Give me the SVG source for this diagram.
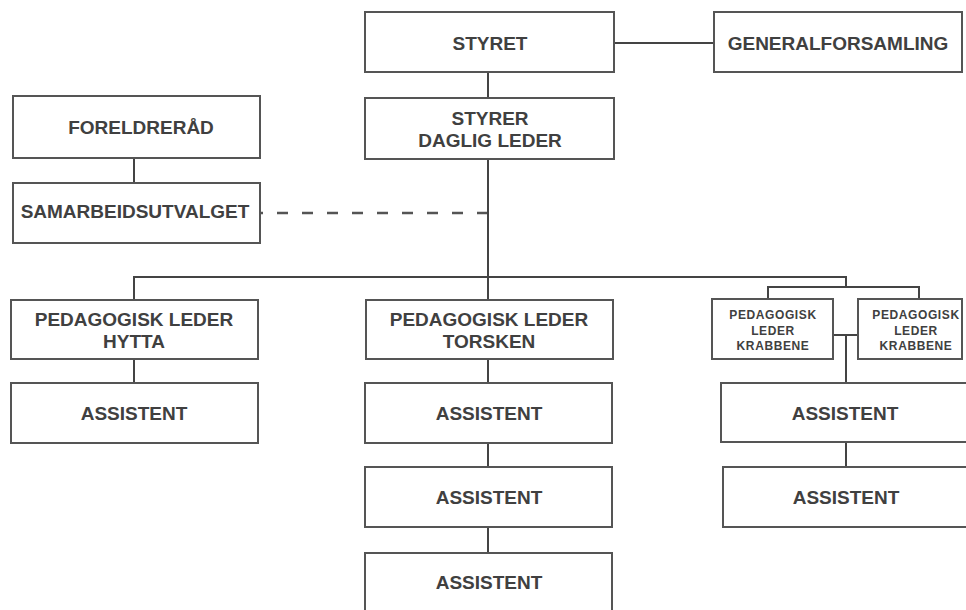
<svg xmlns="http://www.w3.org/2000/svg" width="966" height="610" viewBox="0 0 966 610">
<style>
.box{fill:#fff;stroke:#555;stroke-width:2}
.t{font-family:"Liberation Sans",Arial,sans-serif;font-weight:bold;font-size:19px;fill:#404040;text-anchor:middle}
.s{font-family:"Liberation Sans",Arial,sans-serif;font-weight:bold;font-size:12px;letter-spacing:0.6px;fill:#404040;text-anchor:middle}
.ln{fill:none;stroke:#444;stroke-width:2}
.dash{fill:none;stroke:#555;stroke-width:2.5;stroke-dasharray:11 14}
</style>
<rect width="966" height="610" fill="#fff"/>
<g id="connectors">
<line class="ln" x1="614" y1="43" x2="714" y2="43"/>
<line class="ln" x1="488" y1="72" x2="488" y2="98"/>
<line class="ln" x1="134" y1="158" x2="134" y2="183"/>
<line class="dash" x1="488" y1="213" x2="261" y2="213"/>
<line class="ln" x1="488" y1="159" x2="488" y2="300"/>
<polyline class="ln" points="134,300 134,277 846,277 846,287"/>
<polyline class="ln" points="768,299 768,287 919,287 919,299"/>
<line class="ln" x1="134" y1="359" x2="134" y2="383"/>
<line class="ln" x1="488" y1="359" x2="488" y2="383"/>
<line class="ln" x1="488" y1="443" x2="488" y2="467"/>
<line class="ln" x1="488" y1="527" x2="488" y2="553"/>
<line class="ln" x1="833" y1="335" x2="858" y2="335"/>
<line class="ln" x1="846" y1="335" x2="846" y2="383"/>
<line class="ln" x1="846" y1="442" x2="846" y2="467"/>
</g>
<g id="styret"><rect class="box" x="365" y="12" width="249" height="60"/><text class="t" x="490" y="50">STYRET</text></g>
<g id="generalforsamling"><rect class="box" x="714" y="12" width="248" height="60"/><text class="t" x="838" y="50">GENERALFORSAMLING</text></g>
<g id="styrer"><rect class="box" x="365" y="98" width="249" height="61"/><text class="t" x="490" y="125">STYRER</text><text class="t" x="490" y="147">DAGLIG LEDER</text></g>
<g id="foreldrerad"><rect class="box" x="13" y="96" width="247" height="62"/><text class="t" x="141" y="134">FORELDRERÅD</text></g>
<g id="samarbeidsutvalget"><rect class="box" x="13" y="183" width="247" height="60"/><text class="t" x="135" y="218">SAMARBEIDSUTVALGET</text></g>
<g id="ped-hytta"><rect class="box" x="11" y="300" width="247" height="59"/><text class="t" x="134" y="326">PEDAGOGISK LEDER</text><text class="t" x="134" y="348">HYTTA</text></g>
<g id="ass-hytta"><rect class="box" x="11" y="383" width="247" height="60"/><text class="t" x="134" y="420">ASSISTENT</text></g>
<g id="ped-torsken"><rect class="box" x="366" y="300" width="247" height="59"/><text class="t" x="489" y="326">PEDAGOGISK LEDER</text><text class="t" x="489" y="348">TORSKEN</text></g>
<g id="ass-torsken-1"><rect class="box" x="365" y="383" width="247" height="60"/><text class="t" x="489" y="420">ASSISTENT</text></g>
<g id="ass-torsken-2"><rect class="box" x="365" y="467" width="247" height="60"/><text class="t" x="489" y="504">ASSISTENT</text></g>
<g id="ass-torsken-3"><rect class="box" x="365" y="553" width="247" height="70"/><text class="t" x="489" y="589">ASSISTENT</text></g>
<g id="ped-krabbene-1"><rect class="box" x="712" y="299" width="121" height="60"/><text class="s" x="773" y="319">PEDAGOGISK</text><text class="s" x="773" y="335">LEDER</text><text class="s" x="773" y="350">KRABBENE</text></g>
<g id="ped-krabbene-2"><rect class="box" x="858" y="299" width="104" height="60"/><text class="s" x="916" y="319">PEDAGOGISK</text><text class="s" x="916" y="335">LEDER</text><text class="s" x="916" y="350">KRABBENE</text></g>
<g id="ass-krabbene-1"><rect class="box" x="721" y="383" width="248" height="59"/><text class="t" x="845" y="420">ASSISTENT</text></g>
<g id="ass-krabbene-2"><rect class="box" x="723" y="467" width="248" height="60"/><text class="t" x="846" y="504">ASSISTENT</text></g>
</svg>
